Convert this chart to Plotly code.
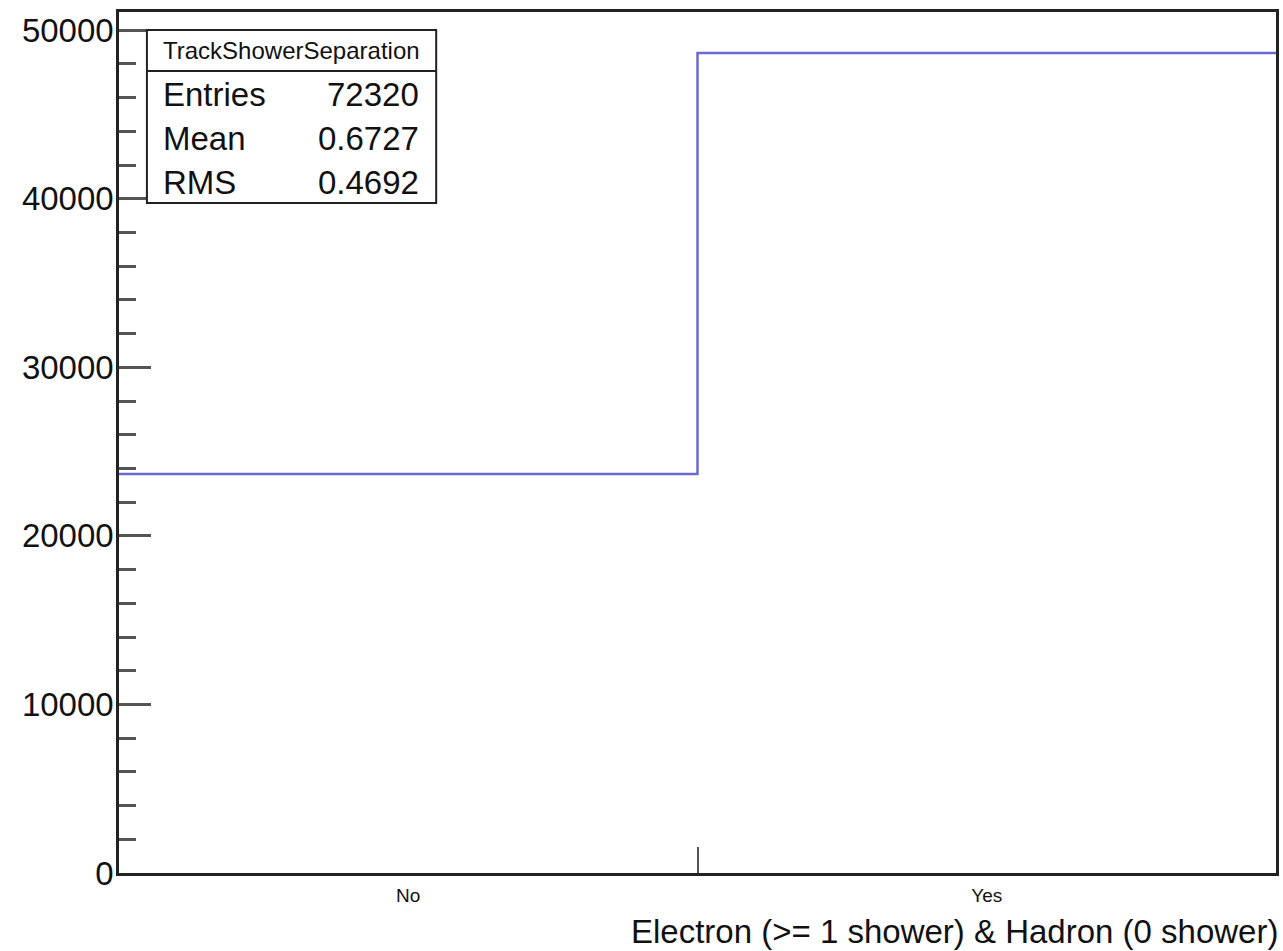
import math
import plotly.graph_objects as go

# Histogram contents: TrackShowerSeparation (2 bins)
categories = ["No", "Yes"]
counts = [23670, 48650]
hist_name = "TrackShowerSeparation"
x_title = "Electron (>= 1 shower) & Hadron (0 shower)"
y_tickvals = [0, 10000, 20000, 30000, 40000, 50000]

W, H = 1283, 951
L, R, T, B = 119, 1279, 12, 873  # frame in pixels

# bin edges 0..n, bin centres at i + 0.5 (ROOT-style labelled bins)
edges = list(range(len(counts) + 1))
centres = [i + 0.5 for i in range(len(counts))]
step_y = counts + [counts[-1]]

# stats as ROOT computes them from bin centres (0, 1)
entries = sum(counts)
mean = sum(i * c for i, c in enumerate(counts)) / entries
rms = math.sqrt(sum(c * (i - mean) ** 2 for i, c in enumerate(counts)) / entries)

ymax = 1.05 * max(counts)

FONT = "Liberation Sans, Arial, Helvetica, sans-serif"
LINE_COL = "#6a6ad0"

fig = go.Figure()
fig.add_trace(go.Scatter(
    x=edges, y=step_y, mode="lines", line=dict(shape="hv", color=LINE_COL, width=2.5),
    hoverinfo="skip", showlegend=False,
))

fig.update_layout(
    width=W, height=H,
    margin=dict(l=L, r=W - R, t=T, b=H - B, pad=0),
    paper_bgcolor="white", plot_bgcolor="white",
    font=dict(family=FONT, color="black"),
    showlegend=False,
    xaxis=dict(
        range=[edges[0], edges[-1]],
        tickvals=centres, ticktext=categories,
        ticks="", showgrid=False, zeroline=False,
        showline=True, linecolor="#222", linewidth=2.5, mirror=True,
        tickfont=dict(size=19, family=FONT, color="#111"),
        ticklabelstandoff=3,
        minor=dict(tickvals=edges[1:-1], ticks="inside", ticklen=26,
                   tickwidth=2, tickcolor="#555", showgrid=False),
    ),
    yaxis=dict(
        range=[0, ymax],
        tickvals=y_tickvals, ticktext=[str(v) for v in y_tickvals],
        ticks="inside", ticklen=32, tickwidth=2.5, tickcolor="#555",
        showgrid=False, zeroline=False,
        showline=True, linecolor="#222", linewidth=2.5, mirror=True,
        tickfont=dict(size=33, family=FONT, color="#111"),
        ticklabelstandoff=-4,
        minor=dict(dtick=2000, tick0=0, ticks="inside", ticklen=17,
                   tickwidth=2.5, tickcolor="#555", showgrid=False),
    ),
)

# x-axis title, right aligned under the frame
fig.add_annotation(
    text=x_title, xref="paper", yref="paper", x=1.0, y=0,
    xanchor="right", yanchor="middle", yshift=-(931 - B), xshift=4,
    showarrow=False,
    font=dict(size=33, family=FONT, color="#111"),
)


def px_x(p):
    return (p - L) / (R - L)


def px_y(p):
    return (B - p) / (B - T)


# statistics box
bx0, bx1, by0, by1, bsep = 147, 437, 30, 203, 71
fig.add_shape(type="rect", xref="paper", yref="paper",
              x0=px_x(bx0), x1=px_x(bx1), y0=px_y(by1), y1=px_y(by0),
              line=dict(color="#222", width=2), fillcolor="white", layer="above")
fig.add_shape(type="line", xref="paper", yref="paper",
              x0=px_x(bx0), x1=px_x(bx1), y0=px_y(bsep), y1=px_y(bsep),
              line=dict(color="#222", width=2), layer="above")
fig.add_annotation(text=hist_name, xref="paper", yref="paper",
                   x=px_x((bx0 + bx1) / 2), y=px_y((by0 + bsep) / 2),
                   xanchor="center", yanchor="middle", showarrow=False,
                   font=dict(size=24, family=FONT, color="#111"))

rows = [("Entries", f"{entries}"), ("Mean", f"{mean:.4f}"), ("RMS", f"{rms:.4f}")]
row_h = (by1 - bsep) / len(rows)
for k, (lab, val) in enumerate(rows):
    yc = bsep + row_h * (k + 0.5) + 1
    fig.add_annotation(text=lab, xref="paper", yref="paper", x=px_x(161), y=px_y(yc),
                       xanchor="left", yanchor="middle", showarrow=False,
                       font=dict(size=33, family=FONT, color="#111"))
    fig.add_annotation(text=val, xref="paper", yref="paper", x=px_x(422), y=px_y(yc),
                       xanchor="right", yanchor="middle", showarrow=False,
                       font=dict(size=33, family=FONT, color="#111"))

fig.write_html("out.html")
